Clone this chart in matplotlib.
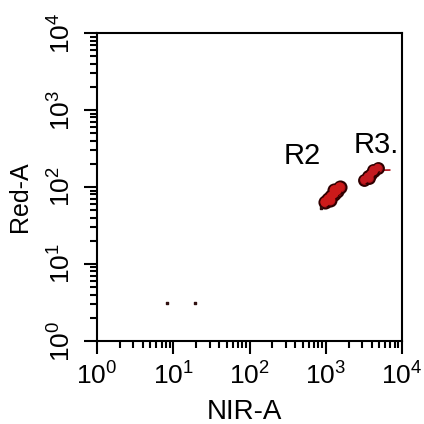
import matplotlib.pyplot as plt

plt.rcParams['font.family'] = ['Liberation Sans', 'DejaVu Sans']
plt.rcParams['mathtext.fontset'] = 'custom'
plt.rcParams['mathtext.rm'] = 'Liberation Sans'

# event clusters (NIR-A, Red-A)
r2_x = [980, 1080, 1180, 1280, 1400, 1520, 1150, 1300]
r2_y = [64, 70, 76, 82, 90, 100, 68, 92]
r3_x = [3200, 3550, 3900, 4300, 4800, 3700, 4200]
r3_y = [125, 137, 148, 160, 178, 132, 168]
tail_x = [4800, 6900]
tail_y = [165, 166]
stray_x = [8.2, 19, 870]
stray_y = [3.1, 3.1, 53]

gate_labels = ["R2", "R3."]
gate_x = [282, 2310]
gate_y = [200, 276]

ticks = [1, 10, 100, 1000, 10000]
tick_labels = [r'$10^{%d}$' % i for i in range(5)]

fig = plt.figure(figsize=(4.24, 4.24), dpi=100)
ax = fig.add_axes([0.229, 0.196, 0.719, 0.726])
ax.set_xscale('log')
ax.set_yscale('log')
ax.set_xlim(1, 10000)
ax.set_ylim(1, 10000)

ax.scatter(r2_x, r2_y, s=75, c='#b0121a', edgecolors='#300000', linewidths=1.5, zorder=3)
ax.scatter(r2_x, r2_y, s=45, c='#cc1a1a', edgecolors='none', zorder=4)
ax.scatter(r3_x, r3_y, s=60, c='#b0121a', edgecolors='#300000', linewidths=1.5, zorder=3)
ax.scatter(r3_x, r3_y, s=32, c='#c41a20', edgecolors='none', zorder=4)
ax.plot(tail_x, tail_y, color='#b0121a', lw=1.2, zorder=2)
ax.scatter(stray_x, stray_y, s=3, c='#301010', marker='s', zorder=3)

for lab, gx, gy in zip(gate_labels, gate_x, gate_y):
    ax.text(gx, gy, lab, fontsize=21, ha='left', va='baseline')

ax.set_xticks(ticks)
ax.set_xticklabels(tick_labels, fontsize=19)
ax.set_yticks(ticks)
ax.set_yticklabels(tick_labels, fontsize=19, rotation=90, va='center')

for s in ax.spines.values():
    s.set_linewidth(1.5)
ax.tick_params(which='major', length=9.5, width=1.5)
ax.tick_params(which='minor', length=5, width=1.5)
ax.tick_params(axis='x', which='major', pad=5)
ax.tick_params(axis='y', which='major', pad=7)

ax.set_xlabel('NIR-A', fontsize=20)
ax.set_ylabel('Red-A', fontsize=18)
ax.xaxis.set_label_coords(0.482, -0.19)
ax.yaxis.set_label_coords(-0.215, 0.47)

fig.savefig('out.png', dpi=100)
